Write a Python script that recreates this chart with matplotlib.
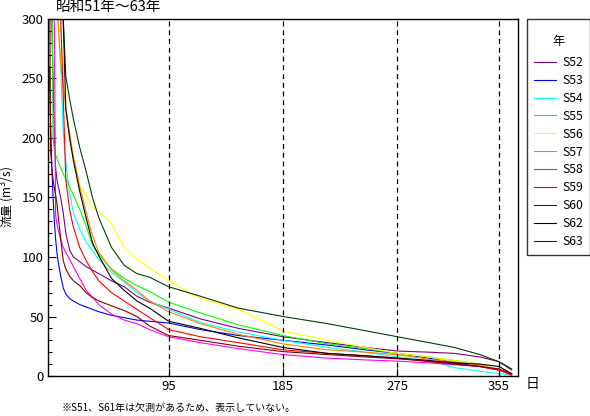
import matplotlib
matplotlib.use("Agg")
import matplotlib.pyplot as plt
from matplotlib.ticker import MultipleLocator

plt.rcParams['font.family'] = ['Noto Sans CJK JP', 'DejaVu Sans']

days = [1, 2, 3, 4, 5, 6, 7, 8, 10, 12, 14, 17, 20, 25, 30, 35, 40, 50, 60, 70, 80,
        95, 120, 150, 185, 220, 250, 275, 300, 320, 340, 355, 365]

s52 = [520, 400, 300, 250, 200, 175, 165, 160, 150, 137, 120, 106, 100, 96, 92, 89, 86, 80, 75, 67, 62,
       57, 48, 40, 33, 28, 24, 21, 20, 19, 16, 12, 5]
s53 = [260, 215, 175, 150, 130, 115, 104, 96, 84, 74, 69, 65, 63, 60, 58, 56, 54, 51, 49, 47, 46,
       44.5, 39, 34, 30, 26, 22, 19, 15, 11, 8, 5, 2]
s54 = [600, 500, 430, 390, 360, 340, 320, 300, 260, 205, 180, 154, 137, 123, 113, 105, 98, 87, 79, 70, 63,
       56, 45, 37, 30, 24, 20, 16, 13, 7, 4, 2, 0.5]
s55 = [600, 450, 350, 200, 190, 186, 183, 180, 175, 170, 166, 159, 152, 140, 126, 110, 102, 90, 82, 76, 71,
       62, 53, 43, 34, 27, 23, 19, 16, 13, 10, 5, 1]
s56 = [700, 550, 480, 430, 400, 370, 350, 330, 300, 250, 225, 200, 185, 160, 152, 142, 138, 128, 108, 98, 91,
       80, 65, 56, 38, 30, 24, 19, 16, 13, 10, 5, 2]
s57 = [700, 550, 450, 380, 340, 320, 310, 295, 262, 245, 225, 204, 184, 159, 138, 118, 104, 89, 80, 72, 63,
       54, 44, 35, 27, 22, 20, 18, 14, 12, 9, 5, 1]
s58 = [700, 550, 450, 380, 300, 135, 128, 123, 115, 108, 104, 98, 92, 82, 72, 66, 60, 52, 47, 44, 39,
       33, 28, 23, 18, 15, 13.5, 12.5, 11, 9.5, 8, 5, 1]
s59 = [700, 600, 500, 450, 400, 370, 350, 330, 300, 235, 165, 140, 125, 108, 97, 88, 80, 70, 63, 56, 49,
       39, 33, 28, 22, 19, 17, 15, 12, 10, 8, 5, 1]
s60 = [900, 700, 600, 520, 470, 430, 400, 370, 330, 300, 252, 233, 216, 192, 172, 150, 133, 108, 93, 86, 83,
       75, 67, 57, 50, 44, 38, 33, 28, 24, 18, 12, 6]
s62 = [900, 600, 480, 420, 380, 360, 340, 325, 320, 300, 225, 200, 181, 155, 133, 112, 101, 82, 72, 63, 57,
       46, 40, 32, 24, 19, 17, 15, 13, 11, 10, 8, 2]
s63 = [400, 190, 175, 165, 158, 152, 145, 135, 115, 97, 90, 84, 80, 76, 70, 66, 63, 59, 55, 50, 42,
       34, 30, 25, 20.5, 18, 16, 14.5, 12.5, 10, 8, 6, 2]

labels = ['S52', 'S53', 'S54', 'S55', 'S56', 'S57', 'S58', 'S59', 'S60', 'S62', 'S63']
series = [s52, s53, s54, s55, s56, s57, s58, s59, s60, s62, s63]
colors = ['#800080', '#0000ff', '#00ffff', '#00ff00', '#ffff00', '#ff8000',
          '#ff00ff', '#ff0000', '#004000', '#000000', '#800000']

ref_days = [95, 185, 275, 355]

fig = plt.figure(figsize=(5.9, 4.16), dpi=100)
ax = fig.add_axes([48/590, 1-376/416, 470/590, 357/416])

for vals, lab, col in zip(series, labels, colors):
    ax.plot(days, vals, color=col, lw=0.8, label=lab)

for d in ref_days:
    ax.axvline(d, color='black', lw=0.9, ls=(0, (4, 3)))

ax.set_xlim(0, 370)
ax.set_ylim(0, 300)
ax.set_xticks(ref_days)
ax.yaxis.set_major_locator(MultipleLocator(50))
ax.yaxis.set_minor_locator(MultipleLocator(10))
ax.tick_params(axis='both', which='major', direction='in', length=6, width=0.8,
               labelsize=9.5, pad=3)
ax.tick_params(axis='y', which='minor', direction='in', length=3, width=0.8)
for s in ax.spines.values():
    s.set_linewidth(1.0)

ax.set_ylabel('流量 (m$^3$/s)', fontsize=8.5, va='center')
ax.yaxis.set_label_coords(-40/470, 0.5)
fig.text(56/590, 1-7/416, '昭和51年～63年', fontsize=10.5, va='center', ha='left')
fig.text(526/590, 1-384/416, '日', fontsize=10, va='center', ha='left')
fig.text(62/590, 1-408/416, '※S51、S61年は欠測があるため、表示していない。', fontsize=7.2,
         va='center', ha='left')

leg = fig.legend(loc='upper left', bbox_to_anchor=(527/590, 1-19/416), title='\n年',
                 fontsize=8.8, title_fontsize=8.8, frameon=True, fancybox=False,
                 edgecolor='black', handlelength=1.8, handletextpad=0.55,
                 labelspacing=0.40, borderpad=0.55, borderaxespad=0)
leg.get_frame().set_linewidth(1.0)
leg.get_title().set_linespacing(0.6)
leg._legend_box.sep = 6

fig.savefig('out.png', dpi=100)
